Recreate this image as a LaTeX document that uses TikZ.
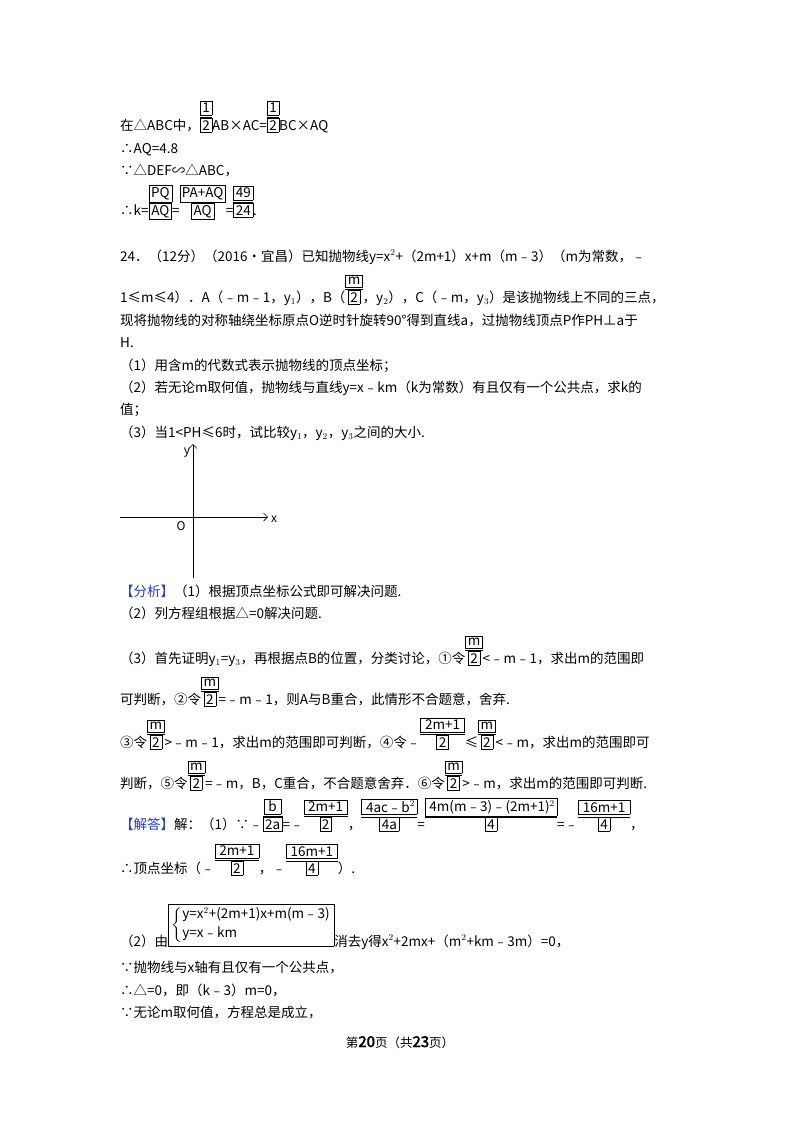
\documentclass[tikz,border=0pt]{standalone}
\usepackage{fontspec}
\setmainfont[AutoFakeBold=2.5]{Noto Sans CJK SC}
\usepackage{amsmath}
\newcommand\fr[2]{{\setlength{\fboxsep}{2pt}\setlength{\tabcolsep}{0pt}\renewcommand\arraystretch{0.95}\begin{tabular}[b]{c}\fbox{#1}\\\hline\fbox{#2}\end{tabular}}}
\tikzset{ln/.style={anchor=base west,inner sep=0pt,font=\fontsize{13.5}{16}\selectfont},
ax/.style={-{Straight Barb[length=4pt]},line width=0.6pt}}
\usetikzlibrary{arrows.meta}
\begin{document}
\begin{tikzpicture}[x=1pt,y=-1pt]
\useasboundingbox (0,0) rectangle (800,1132);
\fill[white] (0,0) rectangle (800,1132);
\node[ln] (l1) at (120,130) {在△ABC中，\fr{1}{2}AB×AC=\fr{1}{2}BC×AQ};
\node[ln] (l2) at (120,153) {∴AQ=4.8};
\node[ln] (l3) at (120,175) {∵△DEF∽△ABC，};
\node[ln] (l4) at (120,215) {∴k=\fr{PQ}{AQ}=\fr{PA+AQ}{AQ}=\fr{49}{24}.};
\node[ln] (l5) at (120,261) {24．（12分）（2016•宜昌）已知抛物线y=x$^2$+（2m+1）x+m（m﹣3）（m为常数，﹣};
\node[ln] (l6) at (120,302) {1≤m≤4）．A（﹣m﹣1，y$_1$），B（\fr{m}{2}，y$_2$），C（﹣m，y$_3$）是该抛物线上不同的三点，};
\node[ln] (l7) at (120,325) {现将抛物线的对称轴绕坐标原点O逆时针旋转90°得到直线a，过抛物线顶点P作PH⊥a于};
\node[ln] (l8) at (120,347) {H.};
\node[ln] (l9) at (120,370) {（1）用含m的代数式表示抛物线的顶点坐标；};
\node[ln] (l10) at (120,392) {（2）若无论m取何值，抛物线与直线y=x﹣km（k为常数）有且仅有一个公共点，求k的};
\node[ln] (l11) at (120,414) {值；};
\node[ln] (l12) at (120,437) {（3）当1<PH≤6时，试比较y$_1$，y$_2$，y$_3$之间的大小.};
\coordinate (yb) at (193,578); \coordinate (yt) at (193,444);
\coordinate (xl) at (120,517); \coordinate (xr) at (268,517);
\draw[ax] (yb) -- (yt);
\draw[ax] (xl) -- (xr);
\node (ylab) at (187,453) {\fontsize{12}{12}\selectfont\itshape y};
\node (xlab) at (274,519) {\fontsize{12}{12}\selectfont\itshape x};
\node (olab) at (181,526) {\fontsize{12}{12}\selectfont\itshape O};
\node[ln] (a1) at (120,596) {\textcolor[RGB]{40,60,200}{【分析】}（1）根据顶点坐标公式即可解决问题.};
\node[ln] (a2) at (120,618) {（2）列方程组根据△=0解决问题.};
\node[ln] (a3) at (120,663) {（3）首先证明y$_1$=y$_3$，再根据点B的位置，分类讨论，①令\fr{m}{2}<﹣m﹣1，求出m的范围即};
\node[ln] (a4) at (120,704) {可判断，②令\fr{m}{2}=﹣m﹣1，则A与B重合，此情形不合题意，舍弃.};
\node[ln] (a5) at (120,747) {③令\fr{m}{2}>﹣m﹣1，求出m的范围即可判断，④令﹣\fr{\,2m+1\,}{2}≤\fr{m}{2}<﹣m，求出m的范围即可};
\node[ln] (a6) at (120,788) {判断，⑤令\fr{m}{2}=﹣m，B，C重合，不合题意舍弃．⑥令\fr{m}{2}>﹣m，求出m的范围即可判断.};
\node[ln] (s1) at (120,829) {\textcolor[RGB]{40,60,200}{【解答】}解：（1）∵﹣\fr{\,b\,}{2a}=﹣\fr{\,2m+1\,}{2}，\fr{\,4ac﹣b$^2$}{4a}=\fr{\,4m(m﹣3)﹣(2m+1)$^2$}{4}=﹣\fr{\,16m+1\,}{4}，};
\node[ln] (s2) at (120,873) {∴顶点坐标（﹣\fr{\,2m+1\,}{2}，﹣\fr{\,16m+1\,}{4}）.};
\node[ln] (s3) at (120,946) {（2）由{\setlength{\fboxsep}{3pt}\raisebox{\depth}{\fbox{$\left\{\begin{array}{@{}l@{}}\text{y=x}^{2}\text{+(2m+1)x+m(m﹣3)}\\[3pt] \text{y=x﹣km}\end{array}\right.$}}}消去y得x$^2$+2mx+（m$^2$+km﹣3m）=0，};
\node[ln] (s4) at (120,972) {∵抛物线与x轴有且仅有一个公共点，};
\node[ln] (s5) at (120,995) {∴△=0，即（k﹣3）m=0，};
\node[ln] (s6) at (120,1017) {∵无论m取何值，方程总是成立，};
\node[anchor=base,font=\fontsize{12.5}{14}\selectfont] (ft) at (400,1047) {第\textbf{\fontsize{15}{15}\selectfont 20}页（共\textbf{\fontsize{15}{15}\selectfont 23}页）};
\end{tikzpicture}
\end{document}
